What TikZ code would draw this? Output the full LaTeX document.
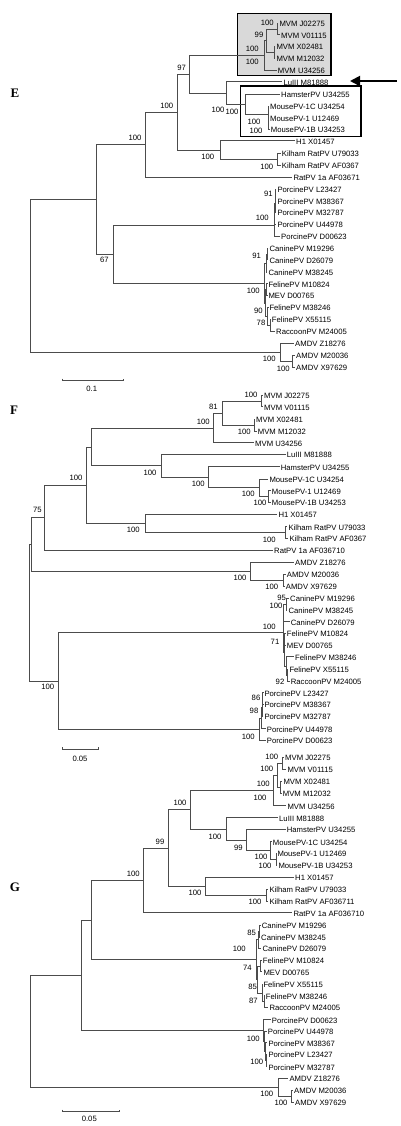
\documentclass[tikz,border=0pt]{standalone}
\usepackage{fontspec}
\setmainfont{Liberation Sans}
\newfontfamily\panelfont{Liberation Serif}
\usetikzlibrary{calc,arrows.meta}

\definecolor{boxgray}{gray}{0.85}
\newcommand\labsize{\fontsize{7.7}{9}\selectfont}
% internal node: name, x, upper child, lower child
\newcommand\clade[4]{%
  \coordinate (#1mid) at ($(#3)!.5!(#4)$);
  \coordinate (#1) at (#2,0 |- #1mid);
  \draw[branch] (#1) |- (#3) (#1) |- (#4);
}

\begin{document}
\begin{tikzpicture}[%
    x=1pt, y=-1pt,               % pixel grid, y runs downwards
    >={Triangle[length=10pt,width=10pt]},
    ]
% -------------------------------------------------
% Styles
\tikzset{
  branch/.style={draw=black!70, line width=0.55pt},
  leaf/.style={anchor=west, inner sep=1pt, xshift=-1pt, font=\labsize,
    text height=1.5ex, text depth=0.25ex},
  boot/.style={inner sep=0pt, font=\labsize},
  panel/.style={inner sep=0pt, font=\panelfont\fontsize{13}{15}\selectfont\bfseries},
  hilite/.style={draw=black, line width=1.5pt},
  pointer/.style={->, draw=black, line width=1.8pt},
  scalebar/.style={draw=black!70, line width=0.6pt}
}
\useasboundingbox (0,0) rectangle (400,1126);

% ================================================= panel E
\node[panel] (pE) at (15,93.3) {E};
\draw[hilite, fill=boxgray] (237.7,13.3) rectangle (331,75.3);
\draw[hilite] (240.7,86) rectangle (361,136.7);

\foreach \nm/\px/\py/\txt in {
  J/279.3/23/MVM J02275, V/281/34.7/MVM V01115,
  X/276.3/46.3/MVM X02481, M/276.3/58.7/MVM M12032,
  U/277.7/70.3/MVM U34256, Lu/283.3/81.7/LuIII M81888,
  Ha/281/94.3/HamsterPV U34255, Mc/270/106/MousePV-1C U34254,
  Ma/270/117.7/MousePV-1 U12469, Mb/270.7/129.3/MousePV-1B U34253,
  H1/296/140.7/H1 X01457, Ka/281.7/153.3/Kilham RatPV U79033,
  Kb/281.7/165/Kilham RatPV AF0367, Ra/293.3/177.3/RatPV 1a AF03671,
  Pl/277.3/189.3/PorcinePV L23427, Pm/277.3/201/PorcinePV M38367,
  Pn/277.3/212.3/PorcinePV M32787, Pu/277.3/224.3/PorcinePV U44978,
  Pd/281/236.3/PorcinePV D00623, Ca/269.3/248.3/CaninePV M19296,
  Cd/269.3/259.7/CaninePV D26079, Cm/268.3/272/CaninePV M38245,
  Fa/268.3/283.7/FelinePV M10824, Me/268.3/295.3/MEV D00765,
  Fb/269.3/307.3/FelinePV M38246, Fx/271.7/319.3/FelinePV X55115,
  Rc/276/331.3/RaccoonPV M24005, Az/295/343.3/AMDV Z18276,
  Am/296/355.3/AMDV M20036, Ax/296/367.3/AMDV X97629}
  \node[leaf] (e\nm) at (\px,\py) {\txt};

\clade{e1}{277.3}{eJ}{eV}
\clade{e2}{274}{eX}{eM}
\clade{e3}{266.7}{e1}{e2}
\clade{e4}{264}{e3}{eU}
\clade{e5a}{268.3}{eMa}{eMb}
\clade{e5b}{267.8}{eMc}{e5a}
\clade{e5c}{245}{eHa}{e5b}
\clade{e5}{226.7}{eLu}{e5c}
\clade{e6}{189.7}{e4}{e5}
\clade{ek}{277.3}{eKa}{eKb}
\clade{ek2}{220}{eH1}{ek}
\clade{e7}{177.7}{e6}{ek2}
\clade{e8}{145.3}{e7}{eRa}
\clade{ep1}{275.3}{ePl}{ePm}
\clade{ep2}{274.9}{ep1}{ePn}
\clade{ep3}{274.5}{ep2}{ePu}
\clade{ep4}{274}{ep3}{ePd}
\clade{ec1}{267}{eCa}{eCd}
\clade{ec2}{266.3}{ec1}{eCm}
\clade{ef1}{266.5}{eFa}{eMe}
\clade{ef3}{270}{eFx}{eRc}
\clade{ef2}{267.5}{eFb}{ef3}
\clade{ef4}{265.5}{ef1}{ef2}
\clade{ecf}{264}{ec2}{ef4}
\clade{e9}{113.3}{ep4}{ecf}
\clade{eA}{96.7}{e8}{e9}
\clade{ea1}{292.7}{eAm}{eAx}
\clade{ea2}{280.7}{eAz}{ea1}
\clade{eR}{30.7}{eA}{ea2}

\foreach \v/\px/\py [count=\i] in {
  100/267.3/23, 99/259/34.7, 100/252.3/49, 100/252.3/62.3, 97/181.7/68.3,
  100/218/110, 100/232/112.3, 100/254/121.7, 100/256/131, 100/166.7/106,
  100/135/138.3, 100/207.7/156.7, 100/266.7/166.7, 91/268.3/194.3,
  100/262.3/218.3, 67/104.3/260, 91/256.7/256, 100/253.3/290.7,
  90/258.3/310.7, 78/261/322.7, 100/269.3/359.3, 100/283.3/368.7}
  \node[boot] (eb\i) at (\px,\py) {\v};

% arrow to LuIII
\coordinate (etail) at (396.7,81);
\coordinate (etip) at (350,81);
\draw[pointer] (etail) -- (etip);

% scale bar
\draw[scalebar] (62.7,378.7) -- (62.7,380.7) -- (123.3,380.7) -- (123.3,378.7);
\node[boot] (escale) at (91.7,389.3) {0.1};

% ================================================= panel F
\node[panel] (pF) at (14,410) {F};

\foreach \nm/\px/\py/\txt in {
  J/264/395/MVM J02275, V/264/406.7/MVM V01115,
  X/256/419/MVM X02481, M/257.7/431/MVM M12032,
  U/255/442.7/MVM U34256, Lu/286.7/454.3/LuIII M81888,
  Ha/280.7/466.7/HamsterPV U34255, Mc/269.3/479/MousePV-1C U34254,
  Ma/271.7/490.7/MousePV-1 U12469, Mb/271.7/502/MousePV-1B U34253,
  H1/278.3/514.3/H1 X01457, Ka/288.3/526.7/Kilham RatPV U79033,
  Kb/289.3/538.3/Kilham RatPV AF0367, Ra/274/550/RatPV 1a AF036710,
  Az/295/562.3/AMDV Z18276, Am/286.7/574/AMDV M20036,
  Ax/285.7/586/AMDV X97629, Ca/290/598.3/CaninePV M19296,
  Cm/288.3/610/CaninePV M38245, Cd/290.7/621.7/CaninePV D26079,
  Fa/286.7/633.3/FelinePV M10824, Me/286.7/645/MEV D00765,
  Fb/295/656.7/FelinePV M38246, Fx/289.3/669/FelinePV X55115,
  Rc/290.7/681/RaccoonPV M24005, Pl/264.3/692.7/PorcinePV L23427,
  Pm/264.3/704.3/PorcinePV M38367, Pn/264.3/716/PorcinePV M32787,
  Pu/266.7/728.7/PorcinePV U44978, Pd/266.7/740/PorcinePV D00623}
  \node[leaf] (f\nm) at (\px,\py) {\txt};

\clade{f1}{261.7}{fJ}{fV}
\clade{f2}{254}{fX}{fM}
\clade{f3}{222.3}{f1}{f2}
\clade{f4}{213.3}{f3}{fU}
\clade{f5a}{268.3}{fMa}{fMb}
\clade{f5b}{259.3}{fMc}{f5a}
\clade{f5c}{208.3}{fHa}{f5b}
\clade{f5}{161}{fLu}{f5c}
\clade{f6}{91.7}{f4}{f5}
\clade{fk}{285}{fKa}{fKb}
\clade{fk2}{145}{fH1}{fk}
\clade{f7}{86.7}{f6}{fk2}
\clade{f8}{44.3}{f7}{fRa}
\clade{fa1}{283.3}{fAm}{fAx}
\clade{fa2}{250.7}{fAz}{fa1}
\clade{f9}{31.7}{f8}{fa2}
\clade{fc1}{286}{fCa}{fCm}
\clade{fc2}{283.3}{fc1}{fCd}
\clade{ff1}{284.7}{fFa}{fMe}
\clade{ff3}{287.3}{fFx}{fRc}
\clade{ff2}{286.7}{fFb}{ff3}
\clade{ff4}{284}{ff1}{ff2}
\clade{fcf}{283}{fc2}{ff4}
\clade{fp1}{262.7}{fPl}{fPm}
\clade{fp2}{262}{fp1}{fPn}
\clade{fp3}{261.3}{fp2}{fPu}
\clade{fp4}{259}{fp3}{fPd}
\clade{fl}{58.3}{fcf}{fp4}
\clade{fR}{29}{f9}{fl}

\foreach \v/\px/\py [count=\i] in {
  100/251/395, 81/213.3/406.7, 100/203.3/421.7, 100/244.3/432.3,
  100/150/472.7, 100/198.3/484, 100/248.3/494, 100/260/503.3,
  100/76/478.3, 75/37.3/510, 100/133.3/530, 100/269.3/540,
  100/240/578.3, 100/271.7/587.3, 95/281.7/597.7, 100/276/606,
  100/269.3/626.7, 71/275/641.7, 92/280/682.3, 100/47.7/686.7,
  86/256/698.3, 98/254/711, 100/248.3/736.7}
  \node[boot] (fb\i) at (\px,\py) {\v};

\draw[scalebar] (62.7,747.3) -- (62.7,749.3) -- (98.7,749.3) -- (98.7,747.3);
\node[boot] (fscale) at (80,759) {0.05};

% ================================================= panel G
\node[panel] (pG) at (15,887.7) {G};

\foreach \nm/\px/\py/\txt in {
  J/285/757.3/MVM J02275, V/287.3/769/MVM V01115,
  X/283.3/781/MVM X02481, M/282.7/793.3/MVM M12032,
  U/287.3/805.7/MVM U34256, Lu/279/817.7/LuIII M81888,
  Ha/286.7/829.3/HamsterPV U34255, Mc/272.7/841.7/MousePV-1C U34254,
  Ma/277.3/853.3/MousePV-1 U12469, Mb/278.3/865.3/MousePV-1B U34253,
  H1/295/877/H1 X01457, Ka/269.3/889.3/Kilham RatPV U79033,
  Kb/269.3/901.3/Kilham RatPV AF036711, Ra/293.3/912.7/RatPV 1a AF036710,
  Ca/261.7/925/CaninePV M19296, Cm/261/937.3/CaninePV M38245,
  Cd/262.3/948.3/CaninePV D26079, Fa/262.7/960/FelinePV M10824,
  Me/263.3/971.7/MEV D00765, Fx/263.3/984.3/FelinePV X55115,
  Fb/265.7/995.7/FelinePV M38246, Rc/269.3/1007.3/RaccoonPV M24005,
  Pd/271.7/1019.7/PorcinePV D00623, Pu/267.7/1031/PorcinePV U44978,
  Pm/268.3/1042.7/PorcinePV M38367, Pl/268.3/1054.3/PorcinePV L23427,
  Pn/268.3/1066.7/PorcinePV M32787, Az/289.3/1078.3/AMDV Z18276,
  Am/294/1090/AMDV M20036, Ax/295/1102.3/AMDV X97629}
  \node[leaf] (g\nm) at (\px,\py) {\txt};

\clade{g1}{282.7}{gJ}{gV}
\clade{g3}{280}{gX}{gM}
\clade{g2}{277.3}{g1}{g3}
\clade{g4}{273.3}{g2}{gU}
\clade{g5a}{276}{gMa}{gMb}
\clade{g5b}{270.5}{gMc}{g5a}
\clade{g5c}{246.7}{gHa}{g5b}
\clade{g5}{226.7}{gLu}{g5c}
\clade{g6}{190}{g4}{g5}
\clade{gk}{266.7}{gKa}{gKb}
\clade{gk2}{205.7}{gH1}{gk}
\clade{g7}{168.3}{g6}{gk2}
\clade{g8}{143.3}{g7}{gRa}
\clade{gc1}{259.3}{gCa}{gCm}
\clade{gc2}{258.3}{gc1}{gCd}
\clade{gf1}{260}{gFa}{gMe}
\clade{gf3}{264}{gFb}{gRc}
\clade{gf2}{261.8}{gFx}{gf3}
\clade{gf4}{257.7}{gf1}{gf2}
\clade{gcf}{256.7}{gc2}{gf4}
\clade{g9}{91.7}{g8}{gcf}
\clade{gp1}{266}{gPl}{gPn}
\clade{gp2}{265.3}{gPm}{gp1}
\clade{gp3}{264.7}{gPu}{gp2}
\clade{gp4}{263.3}{gPd}{gp3}
\clade{g10}{81.7}{g9}{gp4}
\clade{ga1}{291.7}{gAm}{gAx}
\clade{ga2}{278.3}{gAz}{ga1}
\clade{gR}{30}{g10}{ga2}

\foreach \v/\px/\py [count=\i] in {
  100/271.7/757.3, 100/266.7/769, 100/263.3/784, 100/260/798.3,
  100/180/803.3, 100/215/836.7, 99/238.3/847.7, 100/261/856.7,
  100/265/865.7, 99/160/841.7, 100/133.3/874.3, 100/195/893.3,
  100/255/902.3, 85/251.7/933.3, 100/239.3/949.3, 74/247.3/968.3,
  85/252.7/986.7, 87/253.3/1000.7, 100/253.3/1039.3, 100/256.7/1062.3,
  100/266.7/1094.3, 100/281/1103.3}
  \node[boot] (gb\i) at (\px,\py) {\v};

\draw[scalebar] (62.7,1109.7) -- (62.7,1111.7) -- (119.3,1111.7) -- (119.3,1109.7);
\node[boot] (gscale) at (89.3,1118.7) {0.05};

% -------------------------------------------------
\end{tikzpicture}
\end{document}
